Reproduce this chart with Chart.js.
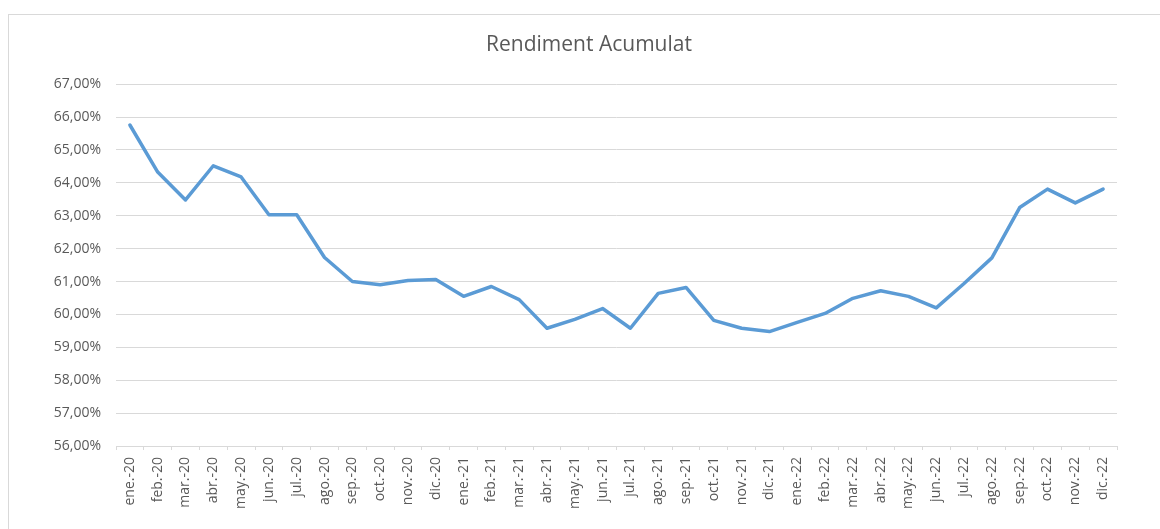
<!DOCTYPE html>
<html>
<head>
<meta charset="utf-8">
<script src="https://cdn.jsdelivr.net/npm/chart.js@4/dist/chart.umd.min.js"></script>
<style>
  html, body { margin: 0; padding: 0; background: #fff; }
  #wrap { width: 1160px; height: 529px; position: relative; }
</style>
</head>
<body>
<div id="wrap"><canvas id="myChart"></canvas></div>
<script>
// months, jan 2020 -> dec 2022
const months = [
  'ene.-20', 'feb.-20', 'mar.-20', 'abr.-20', 'may.-20', 'jun.-20',
  'jul.-20', 'ago.-20', 'sep.-20', 'oct.-20', 'nov.-20', 'dic.-20',
  'ene.-21', 'feb.-21', 'mar.-21', 'abr.-21', 'may.-21', 'jun.-21',
  'jul.-21', 'ago.-21', 'sep.-21', 'oct.-21', 'nov.-21', 'dic.-21',
  'ene.-22', 'feb.-22', 'mar.-22', 'abr.-22', 'may.-22', 'jun.-22',
  'jul.-22', 'ago.-22', 'sep.-22', 'oct.-22', 'nov.-22', 'dic.-22'
]

// rendiment acumulat (%)
const rendiment = [
  65.76, 64.33, 63.48, 64.52, 64.18, 63.03,
  63.03, 61.73, 61.00, 60.90, 61.03, 61.06,
  60.55, 60.85, 60.45, 59.58, 59.85, 60.18,
  59.58, 60.64, 60.82, 59.82, 59.58, 59.48,
  59.76, 60.03, 60.49, 60.72, 60.55, 60.20,
  60.94, 61.72, 63.25, 63.81, 63.39, 63.81
]

const yMin = 56
const yMax = 67

const grey = '#595959'
const lineGrey = '#d9d9d9'

// thin frame round the chart, like the excel chart box
const frame = {
  id: 'frame',
  beforeDraw(chart) {
    const ctx = chart.ctx
    ctx.save()
    ctx.fillStyle = '#fff'
    ctx.fillRect(0, 0, chart.width, chart.height)
    ctx.strokeStyle = lineGrey
    ctx.lineWidth = 1
    ctx.strokeRect(8.5, 14.5, 1300, 700)
    ctx.restore()
  },
  // excel centres the title on the whole box (which runs off to the right)
  afterLayout(chart) {
    chart.titleBlock.left = 61
  }
}

const ctx = document.getElementById('myChart').getContext('2d')

new Chart(ctx, {
  type: 'line',
  data: {
    labels: months,
    datasets: [{
      label: 'Rendiment Acumulat',
      data: rendiment,
      borderColor: '#5b9bd5',
      backgroundColor: '#5b9bd5',
      borderWidth: 3.5,
      pointRadius: 0,
      tension: 0,
      borderJoinStyle: 'round',
      borderCapStyle: 'round'
    }]
  },
  options: {
    responsive: true,
    maintainAspectRatio: false,
    animation: false,
    layout: {
      padding: { left: 30, right: 43, top: 14, bottom: 0 }
    },
    plugins: {
      legend: { display: false },
      tooltip: { enabled: false },
      title: {
        display: true,
        text: 'Rendiment Acumulat',
        color: grey,
        font: { family: 'Open Sans', size: 21, weight: 'normal' },
        padding: { top: 18, bottom: 27 }
      }
    },
    scales: {
      x: {
        offset: true,
        grid: {
          offset: true,
          drawOnChartArea: false,
          drawTicks: true,
          tickLength: 4,
          color: lineGrey
        },
        border: { color: lineGrey },
        ticks: {
          color: grey,
          font: { family: 'Open Sans', size: 14 },
          minRotation: 90,
          maxRotation: 90,
          padding: 7,
          autoSkip: false
        },
        afterFit(scale) { scale.height = 83 }
      },
      y: {
        min: yMin,
        max: yMax,
        grid: { color: lineGrey, drawTicks: false },
        border: { display: false },
        ticks: {
          stepSize: 1,
          color: grey,
          padding: 15,
          font: { family: 'Open Sans', size: 14 },
          callback: v => v.toFixed(2).replace('.', ',') + '%'
        },
        afterFit(scale) { scale.width = 86 }
      }
    }
  },
  plugins: [frame]
})
</script>
</body>
</html>
